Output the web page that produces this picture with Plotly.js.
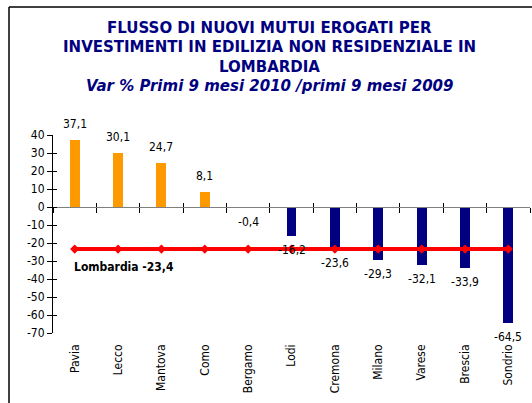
<!DOCTYPE html>
<html><head><meta charset="utf-8">
<script src="https://cdn.plot.ly/plotly-3.0.1.min.js"></script>
<style>html,body{margin:0;padding:0;background:#fff}</style>
</head><body>
<div id="chart" style="width:532px;height:403px"></div>
<script>
const categories = ["Pavia","Lecco","Mantova","Como","Bergamo","Lodi","Cremona","Milano","Varese","Brescia","Sondrio"];
const values = [37.1, 30.1, 24.7, 8.1, -0.4, -16.2, -23.6, -29.3, -32.1, -33.9, -64.5];
const lombardiaValue = -23.4;
const lombardiaLabel = "Lombardia -23,4";
const titleLines = [
  "<b>FLUSSO DI NUOVI MUTUI EROGATI PER</b>",
  "<b>INVESTIMENTI IN EDILIZIA NON RESIDENZIALE IN</b>",
  "<b>LOMBARDIA</b>",
  "<b><i>Var % Primi 9 mesi 2010 /primi 9 mesi 2009</i></b>"
];
const yTickVals = [40,30,20,10,0,-10,-20,-30,-40,-50,-60,-70];

const fmt = v => v.toFixed(1).replace('.', ',');
const FONT = "'DejaVu Sans Condensed', 'DejaVu Sans', sans-serif";
const ORANGE = '#FF9900', NAVY = '#000080';

const bars = {
  type: 'bar', x: categories, y: values,
  marker: {color: values.map(v => v >= 0 ? ORANGE : NAVY), line: {width: 0}},
  width: 0.23, hoverinfo: 'x+y', showlegend: false
};
const avgLine = {
  type: 'scatter', mode: 'lines+markers', x: categories,
  y: categories.map(() => lombardiaValue),
  line: {color: '#FF0000', width: 4},
  marker: {symbol: 'diamond', size: 7, color: '#FF0000'},
  showlegend: false
};
// invisible helpers so the overlay axes (zero line ticks, inner y ticks) get drawn
const helperA = {type: 'scatter', mode: 'markers', x: categories, y: values, xaxis: 'x2', yaxis: 'y2',
  marker: {opacity: 0}, hoverinfo: 'skip', showlegend: false};
const helperB = {type: 'scatter', mode: 'markers', x: categories, y: values, xaxis: 'x3', yaxis: 'y',
  marker: {opacity: 0}, hoverinfo: 'skip', showlegend: false};

const annotations = [];
categories.forEach((c, i) => {
  const v = values[i];
  annotations.push({
    x: c, y: v, xref: 'x', yref: 'y', text: fmt(v), showarrow: false,
    yanchor: v >= 0 ? 'bottom' : 'top', yshift: v >= 0 ? 7 : -5,
    font: {family: FONT, size: 12, color: '#000'}
  });
});
annotations.push({
  x: categories[0], y: lombardiaValue, xref: 'x', yref: 'y',
  text: '<b>' + lombardiaLabel + '</b>', showarrow: false,
  xanchor: 'left', xshift: -3, yanchor: 'top', yshift: -9,
  font: {family: FONT, size: 12, color: '#000'}
});
const H = 198, T = 135;
const lineY = [28, 47.5, 67, 86.5];
titleLines.forEach((t, i) => {
  annotations.push({
    x: (269 - 53) / 477, y: 1 - (lineY[i] - T) / H, xref: 'paper', yref: 'paper',
    text: t, showarrow: false, xanchor: 'center', yanchor: 'middle',
    font: {family: "'DejaVu Sans', sans-serif", size: 15, color: NAVY}
  });
});

const yr = [-70, 40];
const zeroPos = (0 - yr[0]) / (yr[1] - yr[0]);
const overlayX = (tickdir, len, line) => ({
  type: 'category', overlaying: 'x', anchor: 'free', position: zeroPos, side: 'bottom',
  range: [-0.5, 10.5], tickson: 'boundaries', ticks: tickdir, ticklen: len, tickcolor: '#000',
  showline: line, linecolor: '#808080', linewidth: 1, showgrid: false, zeroline: false, showticklabels: false
});
const layout = {
  width: 532, height: 403,
  margin: {l: 53, r: 2, t: 135, b: 70},
  paper_bgcolor: '#fff', plot_bgcolor: '#fff',
  font: {family: FONT, size: 12, color: '#000'},
  bargap: 0,
  xaxis: {
    type: 'category', range: [-0.5, 10.5], showline: false, showgrid: false, zeroline: false,
    ticks: '', tickangle: -90, ticklabelstandoff: 8,
    tickfont: {family: FONT, size: 12, color: '#000'}
  },
  xaxis2: overlayX('outside', 5, true),
  xaxis3: overlayX('inside', 4, false),
  yaxis: {
    range: yr, tickvals: yTickVals, ticktext: yTickVals.map(String),
    ticks: 'outside', ticklen: 5, tickcolor: '#000', showline: true, linecolor: '#000', linewidth: 1,
    showgrid: false, zeroline: false, tickfont: {family: FONT, size: 12, color: '#000'}
  },
  yaxis2: {
    overlaying: 'y', anchor: 'x', side: 'left', range: yr, tickvals: yTickVals,
    ticks: 'inside', ticklen: 4, tickcolor: '#000', showline: false, showgrid: false, zeroline: false,
    showticklabels: false
  },
  shapes: [
    {type: 'line', xref: 'paper', yref: 'paper', x0: (9 - 53) / 477, x1: (9 - 53) / 477,
     y0: 1 - (7 - T) / H, y1: 1 - (404 - T) / H, line: {color: '#000', width: 1.5}},
    {type: 'line', xref: 'paper', yref: 'paper', x0: (9 - 53) / 477, x1: (533 - 53) / 477,
     y0: 1 - (7 - T) / H, y1: 1 - (7 - T) / H, line: {color: '#000', width: 1.5}}
  ],
  annotations: annotations
};

Plotly.newPlot('chart', [helperA, helperB, bars, avgLine], layout, {displayModeBar: false, staticPlot: true});
</script>
</body></html>
